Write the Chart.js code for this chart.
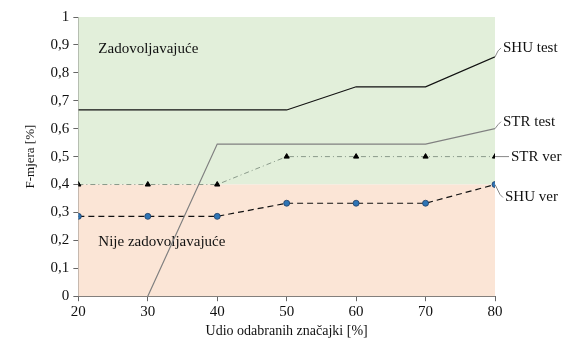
<!DOCTYPE html>
<html>
<head>
<meta charset="utf-8">
<script src="https://cdn.jsdelivr.net/npm/chart.js@4/dist/chart.umd.min.js"></script>
<style>
html, body { margin: 0; padding: 0; background: #fff; }
#wrap { width: 562px; height: 340px; }
</style>
</head>
<body>
<div id="wrap"><canvas id="fChart"></canvas></div>
<script>
var udio = [20, 30, 40, 50, 60, 70, 80];
var shuTest = [0.667, 0.667, 0.667, 0.667, 0.75, 0.75, 0.857];
var strTest = [null, 0, 0.545, 0.545, 0.545, 0.545, 0.6];
var strVer = [0.4, 0.4, 0.4, 0.5, 0.5, 0.5, 0.5];
var shuVer = [0.286, 0.286, 0.286, 0.333, 0.333, 0.333, 0.4];
var prag = 0.4;

function pts(arr) {
    return udio.map((x, i) => ({ x: x, y: arr[i] }));
}

var serif = "'Liberation Serif', 'Times New Roman', Times, serif";
Chart.defaults.font.family = serif;
Chart.defaults.color = '#111';

// pozadina: zadovoljavajuce / nije zadovoljavajuce
var zones = {
    id: 'zones',
    beforeDatasetsDraw(chart) {
        var ctx = chart.ctx, a = chart.chartArea, y = chart.scales.y;
        var yp = y.getPixelForValue(prag);
        ctx.save();
        ctx.fillStyle = 'rgb(226,239,218)';
        ctx.fillRect(a.left, a.top, a.right - a.left, yp - a.top);
        ctx.fillStyle = 'rgb(251,229,214)';
        ctx.fillRect(a.left, yp, a.right - a.left, a.bottom - yp);
        ctx.fillStyle = '#111';
        ctx.font = '15px ' + serif;
        ctx.textBaseline = 'middle';
        ctx.fillText('Zadovoljavajuće', a.left + 20, y.getPixelForValue(0.885));
        ctx.fillText('Nije zadovoljavajuće', a.left + 20, y.getPixelForValue(0.195));
        ctx.restore();
    }
};

// oznake serija desno s linijama
var tags = {
    id: 'tags',
    afterDatasetsDraw(chart) {
        var ctx = chart.ctx;
        ctx.save();
        ctx.font = '15px ' + serif;
        ctx.textBaseline = 'middle';
        chart.data.datasets.forEach((ds, i) => {
            var meta = chart.getDatasetMeta(i);
            var p = meta.data[meta.data.length - 1];
            var t = ds.tag;
            var lx = p.x + t.dx, ly = p.y + t.dy;
            ctx.strokeStyle = '#888';
            ctx.lineWidth = 1;
            ctx.beginPath();
            ctx.moveTo(p.x, p.y);
            if (t.dy !== 0) {
                ctx.lineTo(lx - 3, ly - (t.dy > 0 ? 3 : -3));
                ctx.lineTo(lx, ly);
            } else {
                ctx.lineTo(lx, ly);
            }
            ctx.stroke();
            ctx.fillStyle = '#111';
            ctx.fillText(ds.label, lx + 2, ly);
        });
        ctx.restore();
    }
};

new Chart(document.getElementById('fChart'), {
    type: 'line',
    data: {
        datasets: [{
            label: 'SHU test',
            data: pts(shuTest),
            borderColor: '#111',
            borderWidth: 1.2,
            pointRadius: 0,
            tag: { dx: 6, dy: -9 }
        }, {
            label: 'STR test',
            data: pts(strTest),
            borderColor: '#808080',
            borderWidth: 1.2,
            pointRadius: 0,
            tag: { dx: 6, dy: -7 }
        }, {
            label: 'STR ver',
            data: pts(strVer),
            borderColor: '#8a9a8a',
            borderWidth: 1,
            borderDash: [5, 3, 1, 3],
            pointStyle: 'triangle',
            pointRadius: 3,
            pointBackgroundColor: '#000',
            pointBorderColor: '#000',
            tag: { dx: 14, dy: 0 }
        }, {
            label: 'SHU ver',
            data: pts(shuVer),
            borderColor: '#111',
            borderWidth: 1.2,
            borderDash: [6, 4],
            pointStyle: 'circle',
            pointRadius: 3,
            pointBackgroundColor: 'rgb(46,117,182)',
            pointBorderColor: '#1f3f66',
            pointBorderWidth: 0.8,
            tag: { dx: 8, dy: 13 }
        }]
    },
    options: {
        responsive: true,
        maintainAspectRatio: false,
        animation: false,
        layout: { padding: { top: 17, right: 67, left: 19, bottom: 0 } },
        plugins: { legend: { display: false }, tooltip: { enabled: false } },
        scales: {
            x: {
                type: 'linear',
                min: 20,
                max: 80,
                ticks: { stepSize: 10, font: { size: 15 }, padding: 2, color: '#111' },
                grid: { drawOnChartArea: false, drawTicks: true, tickLength: 5, color: '#666' },
                border: { color: '#666' },
                title: { display: true, text: 'Udio odabranih značajki [%]', font: { size: 14 }, padding: { top: 0, bottom: 0 }, color: '#111' }
            },
            y: {
                min: 0,
                max: 1,
                ticks: {
                    stepSize: 0.1,
                    font: { size: 15 },
                    color: '#111',
                    padding: 4,
                    callback: v => (Math.round(v * 10) / 10).toString().replace('.', ',')
                },
                grid: { drawOnChartArea: false, drawTicks: true, tickLength: 5, color: '#666' },
                border: { color: '#666' },
                title: { display: true, text: 'F-mjera [%]', font: { size: 13 }, color: '#111', padding: { bottom: 8 } }
            }
        }
    },
    plugins: [zones, tags]
});
</script>
</body>
</html>
